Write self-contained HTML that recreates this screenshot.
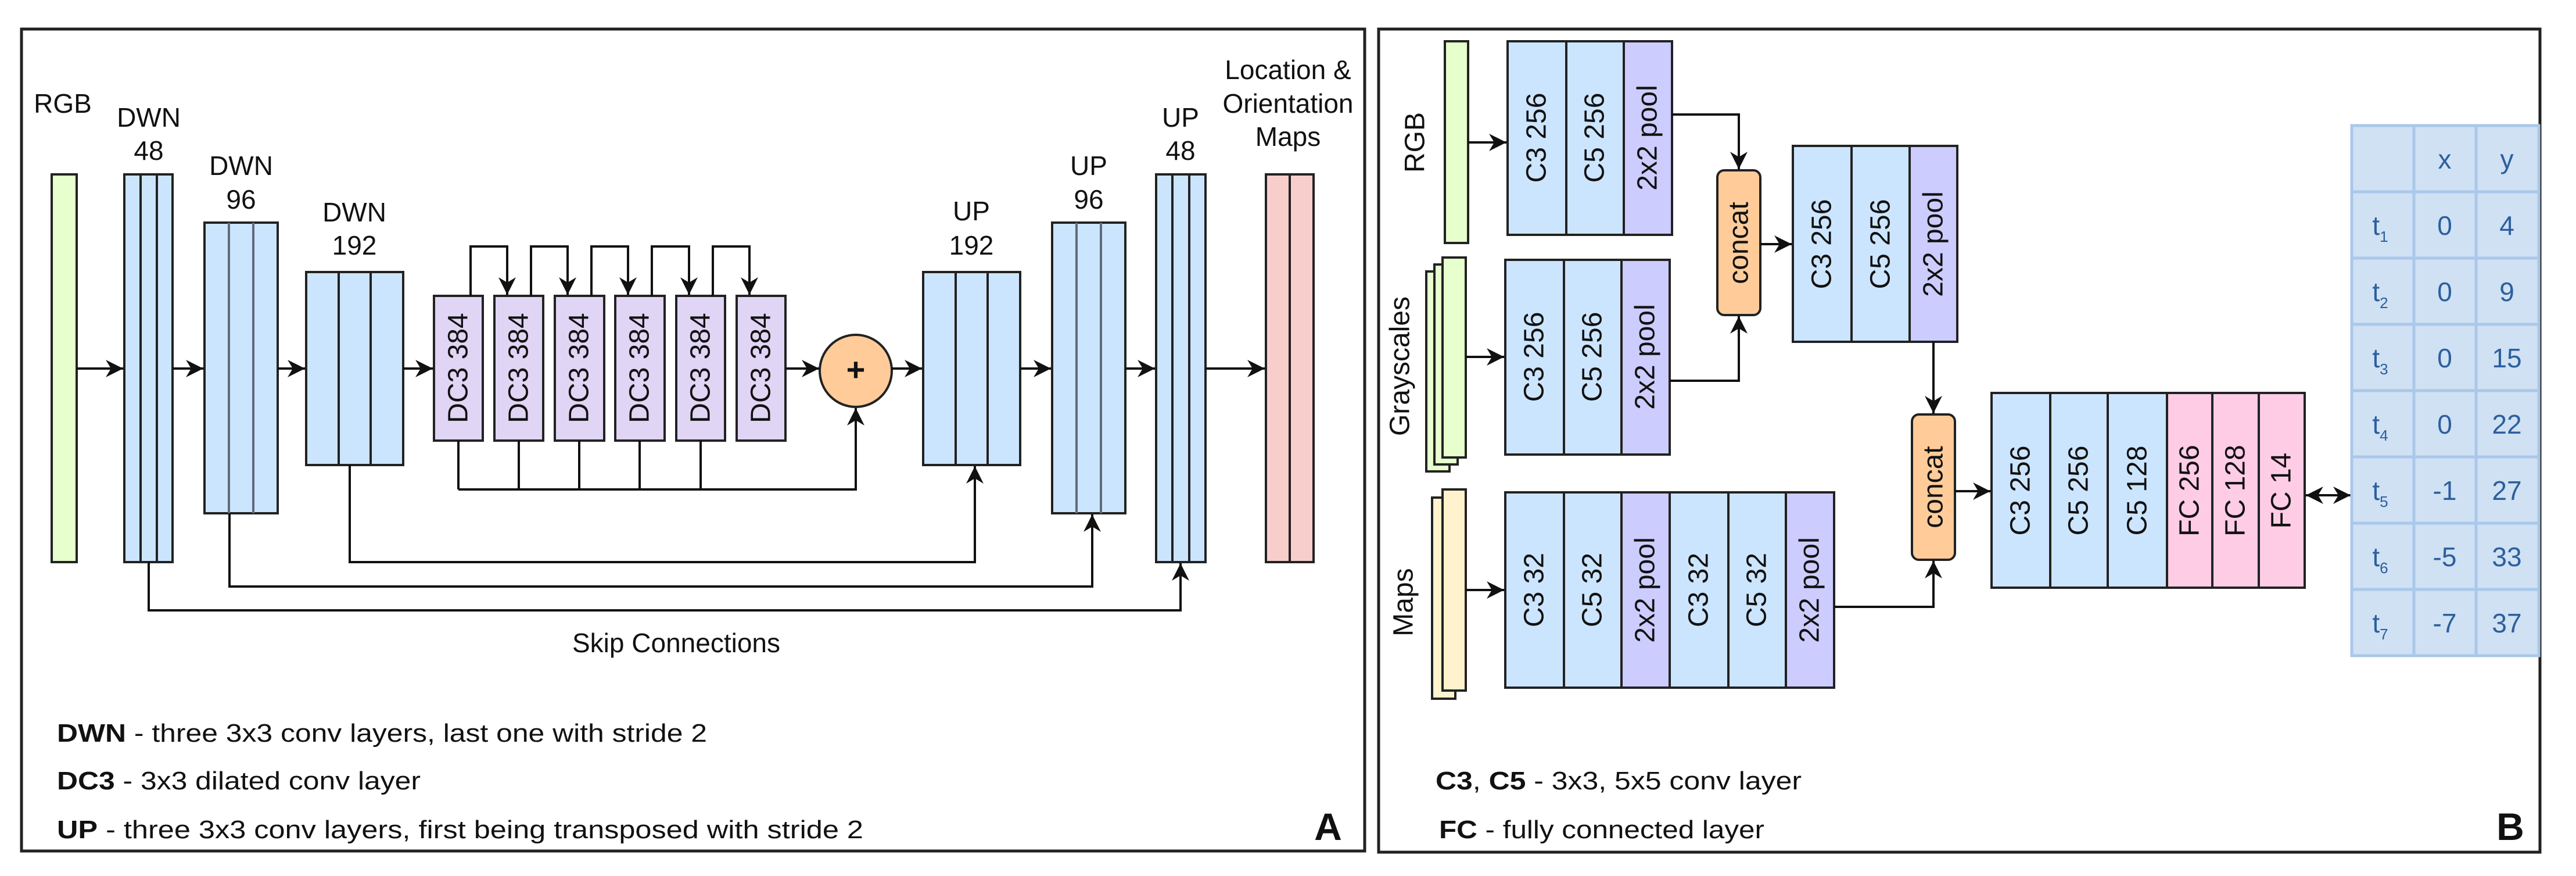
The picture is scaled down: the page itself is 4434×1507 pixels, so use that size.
<!DOCTYPE html>
<html><head><meta charset="utf-8"><style>html,body{margin:0;padding:0;background:#fff}svg{display:block}text{font-family:"Liberation Sans",Arial,sans-serif;fill:#111}</style></head><body>
<svg width="4434" height="1507" viewBox="0 0 4434 1507" xmlns="http://www.w3.org/2000/svg">
<defs>
<marker id="ar" viewBox="0 0 10 10" refX="10" refY="5" markerWidth="30" markerHeight="30" markerUnits="userSpaceOnUse" orient="auto-start-reverse"><path d="M0,0 L10,5 L0,10 L3,5 z" fill="#111"/></marker>
</defs>
<rect x="0" y="0" width="4434" height="1507" fill="#fff"/>
<!-- Panel borders -->
<rect x="37" y="50" width="2312" height="1414" fill="none" stroke="#222" stroke-width="5"/>
<rect x="2373" y="50" width="1999" height="1416" fill="none" stroke="#222" stroke-width="5"/>

<g stroke="#222" stroke-width="4">
<!-- Panel A blocks -->
<rect x="89" y="300" width="43" height="667" fill="#e6ffcc"/>
<rect x="214" y="300" width="83" height="667" fill="#cce5ff"/>
<line x1="242" y1="300" x2="242" y2="967"/><line x1="270" y1="300" x2="270" y2="967"/>
<rect x="352" y="383" width="126" height="500" fill="#cce5ff"/>
<line x1="394" y1="383" x2="394" y2="883" stroke="#5f6b7a"/><line x1="436" y1="383" x2="436" y2="883" stroke="#5f6b7a"/>
<rect x="527" y="468" width="167" height="332" fill="#cce5ff"/>
<line x1="583" y1="468" x2="583" y2="800"/><line x1="638" y1="468" x2="638" y2="800"/>
<rect x="747" y="509" width="84" height="249" fill="#e1d5f5"/>
<rect x="851" y="509" width="84" height="249" fill="#e1d5f5"/>
<rect x="955" y="509" width="85" height="249" fill="#e1d5f5"/>
<rect x="1059" y="509" width="85" height="249" fill="#e1d5f5"/>
<rect x="1164" y="509" width="84" height="249" fill="#e1d5f5"/>
<rect x="1268" y="509" width="84" height="249" fill="#e1d5f5"/>
<circle cx="1473" cy="638" r="62" fill="#ffcc99"/>
<rect x="1589" y="468" width="167" height="332" fill="#cce5ff"/>
<line x1="1645" y1="468" x2="1645" y2="800"/><line x1="1700" y1="468" x2="1700" y2="800"/>
<rect x="1811" y="383" width="126" height="500" fill="#cce5ff"/>
<line x1="1853" y1="383" x2="1853" y2="883" stroke="#5f6b7a"/><line x1="1895" y1="383" x2="1895" y2="883" stroke="#5f6b7a"/>
<rect x="1990" y="300" width="85" height="667" fill="#cce5ff"/>
<line x1="2018" y1="300" x2="2018" y2="967"/><line x1="2047" y1="300" x2="2047" y2="967"/>
<rect x="2179" y="300" width="82" height="667" fill="#f8cecc"/>
<line x1="2220" y1="300" x2="2220" y2="967"/>
</g>

<g stroke="#111" stroke-width="4" fill="none">
<!-- main flow -->
<line x1="132" y1="634" x2="212" y2="634" marker-end="url(#ar)"/>
<line x1="297" y1="634" x2="350" y2="634" marker-end="url(#ar)"/>
<line x1="478" y1="634" x2="525" y2="634" marker-end="url(#ar)"/>
<line x1="694" y1="634" x2="745" y2="634" marker-end="url(#ar)"/>
<line x1="1352" y1="634" x2="1410" y2="634" marker-end="url(#ar)"/>
<line x1="1535" y1="634" x2="1587" y2="634" marker-end="url(#ar)"/>
<line x1="1756" y1="634" x2="1809" y2="634" marker-end="url(#ar)"/>
<line x1="1937" y1="634" x2="1988" y2="634" marker-end="url(#ar)"/>
<line x1="2075" y1="634" x2="2177" y2="634" marker-end="url(#ar)"/>
<!-- top loops -->
<polyline points="810,509 810,424 873,424 873,507" marker-end="url(#ar)"/>
<polyline points="914,509 914,424 977,424 977,507" marker-end="url(#ar)"/>
<polyline points="1018,509 1018,424 1081,424 1081,507" marker-end="url(#ar)"/>
<polyline points="1122,509 1122,424 1186,424 1186,507" marker-end="url(#ar)"/>
<polyline points="1227,509 1227,424 1290,424 1290,507" marker-end="url(#ar)"/>
<!-- bottom to circle -->
<line x1="789" y1="758" x2="789" y2="842"/>
<line x1="893" y1="758" x2="893" y2="842"/>
<line x1="997" y1="758" x2="997" y2="842"/>
<line x1="1101" y1="758" x2="1101" y2="842"/>
<line x1="1206" y1="758" x2="1206" y2="842"/>
<polyline points="789,842 1473,842 1473,702" marker-end="url(#ar)"/>
<!-- skips -->
<polyline points="602,800 602,967 1678,967 1678,802" marker-end="url(#ar)"/>
<polyline points="395,883 395,1009 1880,1009 1880,885" marker-end="url(#ar)"/>
<polyline points="256,967 256,1050 2032,1050 2032,969" marker-end="url(#ar)"/>
</g>

<!-- Panel A text -->
<g font-size="46" text-anchor="middle">
<text x="108" y="194">RGB</text>
<text x="256" y="218">DWN</text><text x="256" y="275">48</text>
<text x="415" y="301">DWN</text><text x="415" y="359">96</text>
<text x="610" y="381">DWN</text><text x="610" y="438">192</text>
<text x="1672" y="379">UP</text><text x="1672" y="438">192</text>
<text x="1874" y="301">UP</text><text x="1874" y="359">96</text>
<text x="2032" y="218">UP</text><text x="2032" y="275">48</text>
<text x="2217" y="136">Location &amp;</text>
<text x="2217" y="194">Orientation</text>
<text x="2217" y="251">Maps</text>
<text x="1164" y="1122">Skip Connections</text>
</g>
<text x="1473" y="655" font-size="56" text-anchor="middle" font-weight="bold">+</text>
<g font-size="48" text-anchor="middle" dominant-baseline="central">
<text transform="translate(789,633) rotate(-90)">DC3 384</text>
<text transform="translate(893,633) rotate(-90)">DC3 384</text>
<text transform="translate(997,633) rotate(-90)">DC3 384</text>
<text transform="translate(1101,633) rotate(-90)">DC3 384</text>
<text transform="translate(1206,633) rotate(-90)">DC3 384</text>
<text transform="translate(1310,633) rotate(-90)">DC3 384</text>
</g>
<g font-size="44">
<text x="98" y="1276" textLength="1119" lengthAdjust="spacingAndGlyphs"><tspan font-weight="bold">DWN</tspan> - three 3x3 conv layers, last one with stride 2</text>
<text x="98" y="1358" textLength="626" lengthAdjust="spacingAndGlyphs"><tspan font-weight="bold">DC3</tspan> - 3x3 dilated conv layer</text>
<text x="98" y="1442" textLength="1388" lengthAdjust="spacingAndGlyphs"><tspan font-weight="bold">UP</tspan> -  three 3x3 conv layers, first being transposed with stride 2</text>
</g>
<text x="2286" y="1445" font-size="66" font-weight="bold" text-anchor="middle">A</text>

<!-- Panel B shapes -->
<g stroke="#222" stroke-width="4">
<rect x="2487" y="71" width="40" height="347" fill="#e6ffcc"/>
<rect x="2455" y="467" width="40" height="344" fill="#e6ffcc"/>
<rect x="2469" y="455" width="40" height="344" fill="#e6ffcc"/>
<rect x="2483" y="443" width="40" height="344" fill="#e6ffcc"/>
<rect x="2465" y="856" width="40" height="346" fill="#fff2cc"/>
<rect x="2483" y="842" width="40" height="346" fill="#fff2cc"/>
<!-- block1 -->
<rect x="2595" y="71" width="101" height="333" fill="#cce5ff"/>
<rect x="2696" y="71" width="99" height="333" fill="#cce5ff"/>
<rect x="2795" y="71" width="83" height="333" fill="#ccccff"/>
<!-- block2 -->
<rect x="2591" y="447" width="101" height="335" fill="#cce5ff"/>
<rect x="2692" y="447" width="99" height="335" fill="#cce5ff"/>
<rect x="2791" y="447" width="83" height="335" fill="#ccccff"/>
<!-- block3 -->
<rect x="2591" y="847" width="101" height="336" fill="#cce5ff"/>
<rect x="2692" y="847" width="99" height="336" fill="#cce5ff"/>
<rect x="2791" y="847" width="83" height="336" fill="#ccccff"/>
<rect x="2874" y="847" width="101" height="336" fill="#cce5ff"/>
<rect x="2975" y="847" width="99" height="336" fill="#cce5ff"/>
<rect x="3074" y="847" width="83" height="336" fill="#ccccff"/>
<!-- block4 -->
<rect x="3086" y="251" width="101" height="337" fill="#cce5ff"/>
<rect x="3187" y="251" width="100" height="337" fill="#cce5ff"/>
<rect x="3287" y="251" width="82" height="337" fill="#ccccff"/>
<!-- block5 -->
<rect x="3428" y="676" width="101" height="335" fill="#cce5ff"/>
<rect x="3529" y="676" width="99" height="335" fill="#cce5ff"/>
<rect x="3628" y="676" width="102" height="335" fill="#cce5ff"/>
<rect x="3730" y="676" width="78" height="335" fill="#ffcce6"/>
<rect x="3808" y="676" width="80" height="335" fill="#ffcce6"/>
<rect x="3888" y="676" width="79" height="335" fill="#ffcce6"/>
<!-- concats -->
<rect x="2956" y="293" width="74" height="249" rx="12" fill="#ffcc99"/>
<rect x="3291" y="713" width="74" height="250" rx="12" fill="#ffcc99"/>
</g>
<g stroke="#111" stroke-width="4" fill="none">
<line x1="2527" y1="245" x2="2593" y2="245" marker-end="url(#ar)"/>
<line x1="2523" y1="614" x2="2589" y2="614" marker-end="url(#ar)"/>
<line x1="2523" y1="1015" x2="2589" y2="1015" marker-end="url(#ar)"/>
<polyline points="2878,197 2993,197 2993,291" marker-end="url(#ar)"/>
<polyline points="2874,655 2993,655 2993,544" marker-end="url(#ar)"/>
<line x1="3030" y1="420" x2="3084" y2="420" marker-end="url(#ar)"/>
<line x1="3328" y1="588" x2="3328" y2="711" marker-end="url(#ar)"/>
<polyline points="3157,1044 3328,1044 3328,965" marker-end="url(#ar)"/>
<line x1="3365" y1="845" x2="3426" y2="845" marker-end="url(#ar)"/>
<line x1="3969" y1="852" x2="4046" y2="852" marker-start="url(#ar)" marker-end="url(#ar)"/>
</g>
<g font-size="48" text-anchor="middle" dominant-baseline="central">
<text transform="translate(2436,245) rotate(-90)">RGB</text>
<text transform="translate(2410,630) rotate(-90)">Grayscales</text>
<text transform="translate(2416,1036) rotate(-90)">Maps</text>
<text transform="translate(2645,237) rotate(-90)">C3 256</text>
<text transform="translate(2745,237) rotate(-90)">C5 256</text>
<text transform="translate(2836,237) rotate(-90)">2x2 pool</text>
<text transform="translate(2641,614) rotate(-90)">C3 256</text>
<text transform="translate(2741,614) rotate(-90)">C5 256</text>
<text transform="translate(2832,614) rotate(-90)">2x2 pool</text>
<text transform="translate(2641,1015) rotate(-90)">C3 32</text>
<text transform="translate(2741,1015) rotate(-90)">C5 32</text>
<text transform="translate(2832,1015) rotate(-90)">2x2 pool</text>
<text transform="translate(2924,1015) rotate(-90)">C3 32</text>
<text transform="translate(3024,1015) rotate(-90)">C5 32</text>
<text transform="translate(3115,1015) rotate(-90)">2x2 pool</text>
<text transform="translate(3136,420) rotate(-90)">C3 256</text>
<text transform="translate(3237,420) rotate(-90)">C5 256</text>
<text transform="translate(3328,420) rotate(-90)">2x2 pool</text>
<text transform="translate(2993,418) rotate(-90)">concat</text>
<text transform="translate(3328,838) rotate(-90)">concat</text>
<text transform="translate(3478,844) rotate(-90)">C3 256</text>
<text transform="translate(3578,844) rotate(-90)">C5 256</text>
<text transform="translate(3679,844) rotate(-90)">C5 128</text>
<text transform="translate(3769,844) rotate(-90)">FC 256</text>
<text transform="translate(3848,844) rotate(-90)">FC 128</text>
<text transform="translate(3927,844) rotate(-90)">FC 14</text>
</g>

<!-- Table -->
<g>
<rect x="4048" y="216" width="322" height="912" fill="#cfe1f3" stroke="#a9c8ea" stroke-width="5"/>
<g stroke="#a9c8ea" stroke-width="5">
<line x1="4155" y1="216" x2="4155" y2="1128"/><line x1="4262" y1="216" x2="4262" y2="1128"/>
<line x1="4048" y1="330" x2="4370" y2="330"/><line x1="4048" y1="444" x2="4370" y2="444"/>
<line x1="4048" y1="558" x2="4370" y2="558"/><line x1="4048" y1="672" x2="4370" y2="672"/>
<line x1="4048" y1="786" x2="4370" y2="786"/><line x1="4048" y1="900" x2="4370" y2="900"/>
<line x1="4048" y1="1014" x2="4370" y2="1014"/>
</g>
<g font-size="46" text-anchor="middle" style="fill:#2c5f9e">
<text x="4208" y="290" style="fill:#2c5f9e">x</text><text x="4315" y="290" style="fill:#2c5f9e">y</text>
<text x="4097" y="404" style="fill:#2c5f9e">t<tspan font-size="26" dy="12">1</tspan></text><text x="4208" y="404" style="fill:#2c5f9e">0</text><text x="4315" y="404" style="fill:#2c5f9e">4</text>
<text x="4097" y="518" style="fill:#2c5f9e">t<tspan font-size="26" dy="12">2</tspan></text><text x="4208" y="518" style="fill:#2c5f9e">0</text><text x="4315" y="518" style="fill:#2c5f9e">9</text>
<text x="4097" y="632" style="fill:#2c5f9e">t<tspan font-size="26" dy="12">3</tspan></text><text x="4208" y="632" style="fill:#2c5f9e">0</text><text x="4315" y="632" style="fill:#2c5f9e">15</text>
<text x="4097" y="746" style="fill:#2c5f9e">t<tspan font-size="26" dy="12">4</tspan></text><text x="4208" y="746" style="fill:#2c5f9e">0</text><text x="4315" y="746" style="fill:#2c5f9e">22</text>
<text x="4097" y="860" style="fill:#2c5f9e">t<tspan font-size="26" dy="12">5</tspan></text><text x="4208" y="860" style="fill:#2c5f9e">-1</text><text x="4315" y="860" style="fill:#2c5f9e">27</text>
<text x="4097" y="974" style="fill:#2c5f9e">t<tspan font-size="26" dy="12">6</tspan></text><text x="4208" y="974" style="fill:#2c5f9e">-5</text><text x="4315" y="974" style="fill:#2c5f9e">33</text>
<text x="4097" y="1088" style="fill:#2c5f9e">t<tspan font-size="26" dy="12">7</tspan></text><text x="4208" y="1088" style="fill:#2c5f9e">-7</text><text x="4315" y="1088" style="fill:#2c5f9e">37</text>
</g>
</g>

<g font-size="44">
<text x="2471" y="1358" textLength="630" lengthAdjust="spacingAndGlyphs"><tspan font-weight="bold">C3</tspan>, <tspan font-weight="bold">C5</tspan> - 3x3, 5x5 conv layer</text>
<text x="2477" y="1442" textLength="560" lengthAdjust="spacingAndGlyphs"><tspan font-weight="bold">FC</tspan> - fully connected layer</text>
</g>
<text x="4321" y="1445" font-size="66" font-weight="bold" text-anchor="middle">B</text>
</svg>
</body></html>
